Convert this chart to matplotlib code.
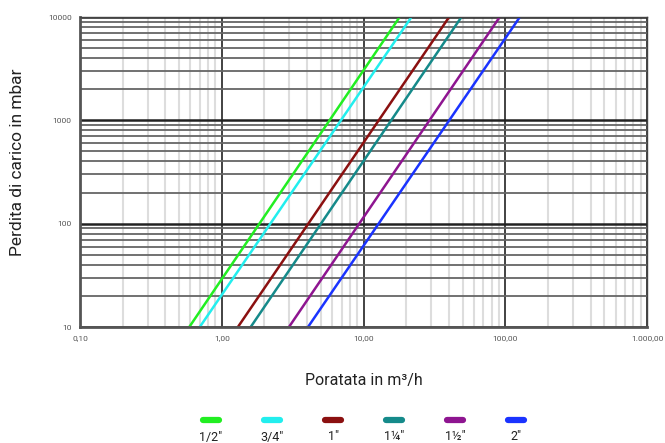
import matplotlib
matplotlib.use("Agg")
import matplotlib.pyplot as plt
from matplotlib.lines import Line2D
import matplotlib.ticker as mticker

plt.rcParams['font.family'] = ['Roboto', 'DejaVu Sans']

# Series: flow (m3/h) at 10 mbar and at 10000 mbar
labels = ['1/2"', '3/4"', '1"', '1¼"', '1½"', '2"']
colors = ['#22ee22', '#22eeee', '#8b1010', '#158a8a', '#8e1590', '#1a33ff']
flow_low = [0.59, 0.70, 1.30, 1.60, 2.98, 4.06]
flow_high = [18.0, 21.8, 40.2, 49.1, 91.4, 126.8]
dp_range = [10, 10000]

xticks = [0.1, 1, 10, 100, 1000]
xtick_labels = ['0,10', '1,00', '10,00', '100,00', '1.000,00']
yticks = [10, 100, 1000, 10000]
ytick_labels = ['10', '100', '1000', '10000']

fig = plt.figure(figsize=(6.65, 4.43), dpi=100)
ax = fig.add_axes([80/665, 1-327/443, (647-80)/665, (327-17)/443])
ax.set_xscale('log')
ax.set_yscale('log')
ax.set_xlim(0.1, 1000)
ax.set_ylim(10, 10000)

# grid
ax.xaxis.set_minor_locator(mticker.LogLocator(base=10, subs=range(2, 10)))
ax.yaxis.set_minor_locator(mticker.LogLocator(base=10, subs=range(2, 10)))
ax.grid(True, which='minor', axis='x', color='#dddddd', lw=1.5)
ax.grid(True, which='minor', axis='y', color='#666666', lw=1.3)
ax.grid(True, which='major', axis='x', color='#222222', lw=1.2)
ax.grid(True, which='major', axis='y', color='#222222', lw=1.8)
ax.set_axisbelow(True)

for fl, fh, c in zip(flow_low, flow_high, colors):
    ax.plot([fl, fh], dp_range, color=c, lw=1.8, solid_capstyle='butt')

ax.set_xticks(xticks)
ax.set_xticklabels(xtick_labels)
ax.set_yticks(yticks)
ax.set_yticklabels(ytick_labels)
ax.tick_params(which='both', length=0, labelsize=6, labelcolor='#555555')
ax.tick_params(axis='x', pad=6)
ax.tick_params(axis='y', pad=6)
ax.xaxis.set_minor_formatter(mticker.NullFormatter())
ax.yaxis.set_minor_formatter(mticker.NullFormatter())

for s in ['left', 'bottom']:
    ax.spines[s].set_color('#555555')
    ax.spines[s].set_linewidth(2.0)
for s in ['right', 'top']:
    ax.spines[s].set_color('#444444')
    ax.spines[s].set_linewidth(1.0)

fig.text(18/665, 1-162/443, 'Perdita di carico in mbar', rotation=90,
         ha='center', va='center', fontsize=12.5, color='#222222')
fig.text(364/665, 1-381/443, 'Poratata in m³/h', ha='center', va='center',
         fontsize=11.5, color='#222222')

# custom legend: swatch above label
x0, dx = 211, 61
for i, (lab, c) in enumerate(zip(labels, colors)):
    xc = (x0 + i*dx) / 665
    fig.add_artist(Line2D([xc - 8/665, xc + 8/665], [1-420/443]*2, color=c,
                          lw=4.5, solid_capstyle='round', transform=fig.transFigure))
    fig.text(xc, 1-437/443, lab, ha='center', va='center', fontsize=9, color='#222222')

fig.savefig('out.png', dpi=100)
